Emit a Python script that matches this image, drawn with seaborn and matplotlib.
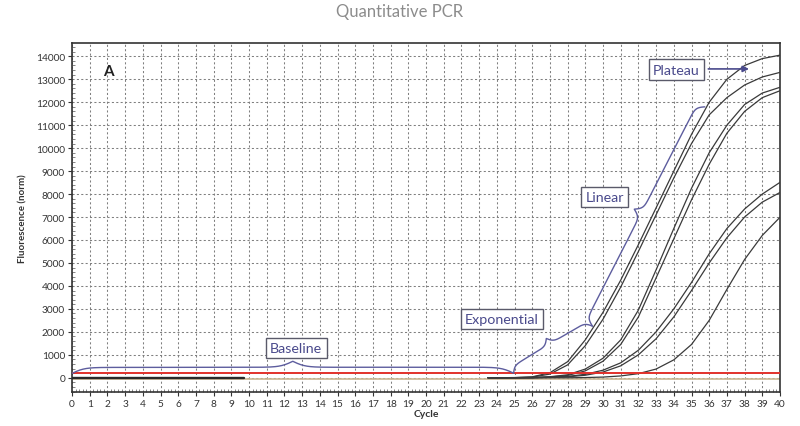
import numpy as np
import pandas as pd
import matplotlib
matplotlib.use("Agg")
import matplotlib.pyplot as plt
import seaborn as sns

# ---------------- data ----------------
cycles = [23.5, 24, 25, 26, 27, 28, 29, 30, 31, 32, 33, 34, 35, 36, 37, 38, 39, 40]
curve_a = [0, 0, 10, 40, 220, 700, 1650, 2850, 4250, 5800, 7400, 9000, 10600, 12000, 13000, 13600, 13900, 14050]
curve_b = [0, 0, 5, 30, 160, 560, 1400, 2550, 3950, 5500, 7100, 8700, 10200, 11450, 12200, 12750, 13100, 13300]
curve_c = [0, 0, 0, 10, 45, 130, 380, 850, 1650, 2950, 4700, 6500, 8250, 9800, 11000, 11900, 12400, 12650]
curve_d = [0, 0, 0, 5, 35, 100, 300, 720, 1450, 2650, 4350, 6050, 7750, 9300, 10650, 11600, 12200, 12500]
curve_e = [0, 0, 0, 5, 25, 60, 150, 330, 650, 1200, 2000, 3000, 4150, 5400, 6500, 7350, 8000, 8510]
curve_f = [0, 0, 0, 0, 15, 40, 110, 250, 520, 1000, 1700, 2650, 3800, 5000, 6100, 7000, 7650, 8070]
curve_g = [0, 0, 0, 0, 0, 0, 10, 30, 80, 180, 380, 780, 1450, 2500, 3850, 5150, 6200, 6990]
wells = ["A", "B", "C", "D", "E", "F", "G"]

threshold = 190
x_ticks = list(range(0, 41))
y_ticks = list(range(0, 14001, 1000))

phase_labels = ["Baseline", "Exponential", "Linear", "Plateau"]
phase_label_pos = [(12.67, 1300), (24.3, 2560), (30.1, 7870), (34.15, 13420)]

# ---------------- figure ----------------
sns.set_theme(style="white")
plt.rcParams["font.family"] = ["Lato", "DejaVu Sans"]

fig = plt.figure(figsize=(8, 4.27), dpi=100)
ax = fig.add_axes([0.09, 0.0796, 0.885, 0.8174])

XMIN, XMAX, YMIN, YMAX = 0, 40, -620, 14580
ax.set_xlim(XMIN, XMAX)
ax.set_ylim(YMIN, YMAX)

# grid
ax.set_xticks(x_ticks)
ax.set_yticks(y_ticks)
ax.grid(True, which="major", color="#7f7f7f", linestyle=(0, (2, 2.2)), linewidth=0.75)
ax.set_axisbelow(True)

# tan baseline under everything and black early baseline
ax.plot([0, 40], [-40, -40], color="#cbb995", lw=1.2, zorder=2)
ax.plot([0, 9.7], [0, 0], color="#2a2a2a", lw=1.7, zorder=3)

# amplification curves
rows = []
for name, vals in zip(wells, [curve_a, curve_b, curve_c, curve_d, curve_e, curve_f, curve_g]):
    for c, v in zip(cycles, vals):
        rows.append({"well": name, "cycle": c, "fluor": v})
df = pd.DataFrame(rows)
sns.lineplot(data=df, x="cycle", y="fluor", units="well", estimator=None,
             color="#3a3a3a", lw=0.9, ax=ax, zorder=4, legend=False)

# threshold line
ax.axhline(threshold, color="#e2312b", lw=1.4, zorder=5)

# ---------------- braces ----------------
SX = 17.67          # px per cycle
SY = 22.96 / 1000   # px per fluorescence unit
BRACE_COL = "#5d5d9e"


def brace(p0, p1, h, beta=0.35):
    a = np.array([p0[0] * SX, p0[1] * SY])
    b = np.array([p1[0] * SX, p1[1] * SY])
    d = b - a
    L = np.hypot(*d)
    u = d / L
    n = np.array([-u[1], u[0]])
    half = L / 2
    xs = np.linspace(0, half, 200)
    yh = 1 / (1 + np.exp(-beta * xs)) + 1 / (1 + np.exp(-beta * (xs - half))) - 0.5
    t = np.concatenate([xs, xs + half])
    yy = np.concatenate([yh, yh[::-1]]) * h
    pts = a[None, :] + t[:, None] * u[None, :] + yy[:, None] * n[None, :]
    ax.plot(pts[:, 0] / SX, pts[:, 1] / SY, color=BRACE_COL, lw=1.0, zorder=6,
            solid_capstyle="round")


brace((0.0, threshold), (24.95, 200), 12, beta=0.16)
brace((24.95, 200), (29.4, 2250), 13, beta=0.4)
brace((29.4, 2250), (35.75, 11800), 16, beta=0.4)

# phase labels
box = dict(boxstyle="square,pad=0.3", fc="white", ec="#5a5a6a", lw=1.0)
for lab, (x, y) in zip(phase_labels, phase_label_pos):
    ax.text(x, y, lab, ha="center", va="center", fontsize=10.3, color="#4a4a8c",
            bbox=box, zorder=7)

ax.annotate("", xy=(38.25, 13450), xytext=(35.95, 13450),
            arrowprops=dict(arrowstyle="-|>", color="#4a4a8c", lw=1.2,
                            mutation_scale=9, shrinkA=0, shrinkB=0), zorder=7)

ax.text(2.05, 13370, "A", fontsize=11, fontweight="bold", color="#222222",
        ha="center", va="center", zorder=7)

# ---------------- axes styling ----------------
for s in ax.spines.values():
    s.set_color("#333333")
    s.set_linewidth(1.2)
    s.set_visible(True)

ax.set_xticks(np.arange(0, 40.01, 0.2), minor=True)
ax.set_yticks(np.arange(-600, 14580, 200), minor=True)
ax.tick_params(axis="both", which="major", direction="out", length=3, width=0.8,
               color="#333333", labelsize=7.3, labelcolor="#333333", pad=2)
ax.tick_params(axis="both", which="minor", direction="in", length=2, width=0.5,
               color="#555555")
ax.tick_params(axis="x", which="both", bottom=True, top=False)
ax.tick_params(axis="y", which="both", left=True, right=False)
ax.set_xticklabels([str(v) for v in x_ticks])
ax.set_yticklabels([str(v) for v in y_ticks])

ax.set_xlabel("Cycle", fontsize=7.5, fontweight="bold", color="#333333", labelpad=1)
ax.set_ylabel("Fluorescence (norm)", fontsize=7, fontweight="bold", color="#333333",
              labelpad=6)

fig.text(0.5, 0.972, "Quantitative PCR", ha="center", va="center", fontsize=12,
         color="#8c8c8c")

fig.savefig("out.png", dpi=100, facecolor="white")
